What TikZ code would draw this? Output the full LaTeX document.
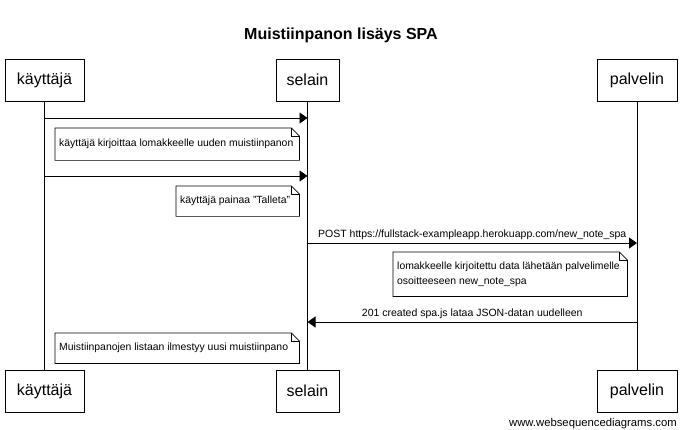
\documentclass[tikz,border=0pt]{standalone}
\usepackage{fontspec}
\setmainfont{Liberation Sans}
\usetikzlibrary{arrows.meta,calc}

\tikzset{
  actorbox/.style={draw,line width=0.9pt,minimum height=42,inner sep=0pt,font=\fontsize{16}{19}\selectfont},
  notebox/.style={anchor=north west,inner xsep=4,inner ysep=0,align=flush left,font=\fontsize{10.4}{15}\selectfont},
  msg/.style={line width=0.9pt,-{Triangle[length=8pt,width=11pt]}},
  msglabel/.style={inner sep=0.75pt,font=\fontsize{10.5}{13}\selectfont},
}

% folded note outline round a named node
\newcommand{\notefold}[1]{%
  \draw[line width=0.7pt] (#1.south west) -- (#1.north west) -- ($(#1.north east)+(-8,0)$)
    -- ($(#1.north east)+(0,8)$) -- (#1.south east) -- cycle;
  \draw[line width=0.7pt] ($(#1.north east)+(-8,0)$) -- ($(#1.north east)+(-8,8)$) -- ($(#1.north east)+(0,8)$);
}

\begin{document}
\begin{tikzpicture}[x=1pt,y=1pt,yscale=-1,xscale=1]
\useasboundingbox (0,0) rectangle (693,430);
% Title
\draw (341,35) node [inner sep=0.75pt,font=\fontsize{16}{20}\selectfont\bfseries] (title) {Muistiinpanon lisäys SPA};
% Actors, top and bottom
\draw (44.5,80) node [actorbox,minimum width=79] (kt) {käyttäjä};
\draw (307.5,80) node [actorbox,minimum width=63] (st) {selain};
\draw (637,80) node [actorbox,minimum width=80] (pt) {palvelin};
\draw (44.5,391) node [actorbox,minimum width=79] (kb) {käyttäjä};
\draw (307.5,391) node [actorbox,minimum width=63] (sb) {selain};
\draw (637,391) node [actorbox,minimum width=80] (pb) {palvelin};
% Lifelines
\draw[line width=0.9pt] (kt.south) -- (kb.north);
\draw[line width=0.9pt] (st.south) -- (sb.north);
\draw[line width=0.9pt] (pt.south) -- (pb.north);
% Message ends
\coordinate (k1) at (kt.south |- 0,118);
\coordinate (s1) at (st.south |- 0,118);
\coordinate (k2) at (kt.south |- 0,176);
\coordinate (s2) at (st.south |- 0,176);
\coordinate (s3) at (st.south |- 0,243);
\coordinate (p3) at (pt.south |- 0,243);
\coordinate (p4) at (pt.south |- 0,322);
\coordinate (s4) at (st.south |- 0,322);
% Messages
\draw[msg] (k1) -- (s1);
\draw[msg] (k2) -- (s2);
\draw[msg] (s3) -- (p3) node [midway,above=2pt,msglabel] (post) {POST https://fullstack-exampleapp.herokuapp.com/new\_note\_spa};
\draw[msg] (p4) -- (s4) node [midway,above=2pt,msglabel] (created) {201 created spa.js lataa JSON-datan uudelleen};
% Notes
\draw (55,128) node [notebox,minimum width=244,minimum height=32,text width=236] (n1) {käyttäjä kirjoittaa lomakkeelle uuden muistiinpanon};
\notefold{n1}
\draw (176,186) node [notebox,minimum width=123,minimum height=30,text width=115] (n2) {käyttäjä painaa "Talleta"};
\notefold{n2}
\draw (393,252) node [notebox,minimum width=234,minimum height=44,text width=226] (n3) {lomakkeelle kirjoitettu data lähetään palvelimelle\\osoitteeseen new\_note\_spa};
\notefold{n3}
\draw (55,333) node [notebox,minimum width=244,minimum height=30,text width=236] (n4) {Muistiinpanojen listaan ilmestyy uusi muistiinpano};
\notefold{n4}
% Watermark
\draw (677,424) node [anchor=east,inner sep=0pt,font=\fontsize{11.3}{13}\selectfont] (wsd) {www.websequencediagrams.com};
\end{tikzpicture}
\end{document}
